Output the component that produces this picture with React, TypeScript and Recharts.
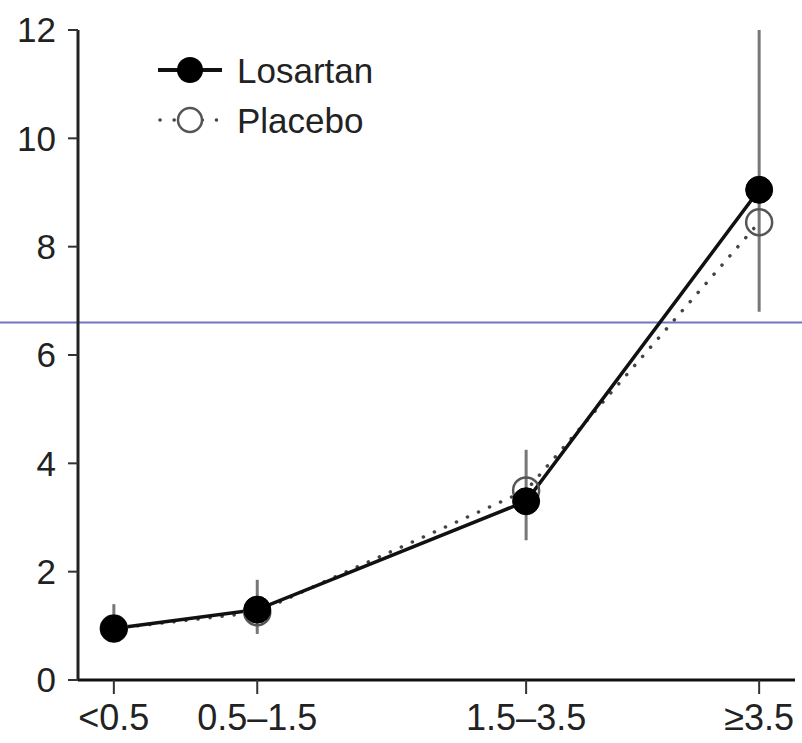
import React from 'react';
import { ComposedChart, Line, XAxis, YAxis, ErrorBar, ReferenceLine } from 'recharts';

const categories = ['<0.5', '0.5–1.5', '1.5–3.5', '≥3.5'];
const xPositions = [0.5, 2.5, 6.25, 9.5];
const losartan = [0.95, 1.3, 3.3, 9.05];
const placebo = [0.95, 1.25, 3.5, 8.45];
const errLow = [0.25, 0.45, 0.72, 2.25];
const errHigh = [0.45, 0.55, 0.95, 2.95];
const yTicks = [0, 2, 4, 6, 8, 10, 12];
const refValue = 6.6;

const data = categories.map((c, i) => ({
  cat: c,
  x: xPositions[i],
  losartan: losartan[i],
  placebo: placebo[i],
  err: [errLow[i], errHigh[i]],
}));

const FONT = '"Liberation Sans", Arial, Helvetica, sans-serif';

const LegendBox = () => (
  <div style={{ position: 'absolute', top: 45, left: 155, fontFamily: FONT, fontSize: 35, color: '#222', lineHeight: 1 }}>
    <div style={{ display: 'flex', alignItems: 'center', height: 50 }}>
      <svg width={80} height={40}>
        <line x1={3} y1={20} x2={67} y2={20} stroke="#111" strokeWidth={4} />
        <circle cx={35} cy={20} r={13} fill="#000" />
      </svg>
      <span style={{ marginLeft: 2 }}>Losartan</span>
    </div>
    <div style={{ display: 'flex', alignItems: 'center', height: 50 }}>
      <svg width={80} height={40}>
        <line x1={5} y1={20} x2={70} y2={20} stroke="#444" strokeWidth={3.5} strokeDasharray="0.1 14" strokeLinecap="round" />
        <circle cx={35} cy={20} r={12} fill="#fff" stroke="#555" strokeWidth={2.5} />
      </svg>
      <span style={{ marginLeft: 2 }}>Placebo</span>
    </div>
  </div>
);

const blueLine = (props: any) => (
  <line x1={0} x2={802} y1={props.y1} y2={props.y2} stroke="#7373c4" strokeWidth={2} />
);

export default function App() {
  return (
    <div style={{ position: 'absolute', left: 0, top: 0, width: 802, height: 743, background: '#fff' }}>
      <ComposedChart
        width={802}
        height={743}
        data={data}
        margin={{ top: 30, right: 7, left: 0, bottom: 0 }}
      >
        <XAxis
          dataKey="x"
          type="number"
          domain={[0, 10]}
          ticks={xPositions}
          tickFormatter={(v: number) => categories[xPositions.indexOf(v)]}
          height={63}
          tickSize={14}
          tickMargin={10}
          axisLine={{ stroke: '#111', strokeWidth: 3 }}
          tickLine={{ stroke: '#333', strokeWidth: 2 }}
          tick={{ fill: '#222', fontSize: 36, fontFamily: FONT }}
          interval={0}
        />
        <YAxis
          type="number"
          domain={[0, 12]}
          ticks={yTicks}
          width={78}
          tickSize={10}
          tickMargin={12}
          axisLine={{ stroke: '#222', strokeWidth: 3 }}
          tickLine={{ stroke: '#333', strokeWidth: 2 }}
          tick={{ fill: '#222', fontSize: 35, fontFamily: FONT }}
          interval={0}
        />
        <ReferenceLine y={refValue} shape={blueLine} />
        <Line
          dataKey="placebo"
          stroke="#444"
          strokeWidth={3.5}
          strokeDasharray="0.1 12"
          strokeLinecap="round"
          dot={{ r: 13, fill: 'none', stroke: '#555', strokeWidth: 2.5, strokeDasharray: '' }}
          isAnimationActive={false}
          legendType="none"
        />
        <Line
          dataKey="losartan"
          stroke="#111"
          strokeWidth={3.5}
          dot={{ r: 13.5, fill: '#000', stroke: '#000', strokeWidth: 1 }}
          isAnimationActive={false}
          legendType="none"
        >
          <ErrorBar dataKey="err" width={0} stroke="#777" strokeWidth={3} direction="y" />
        </Line>
      </ComposedChart>
      <LegendBox />
    </div>
  );
}
